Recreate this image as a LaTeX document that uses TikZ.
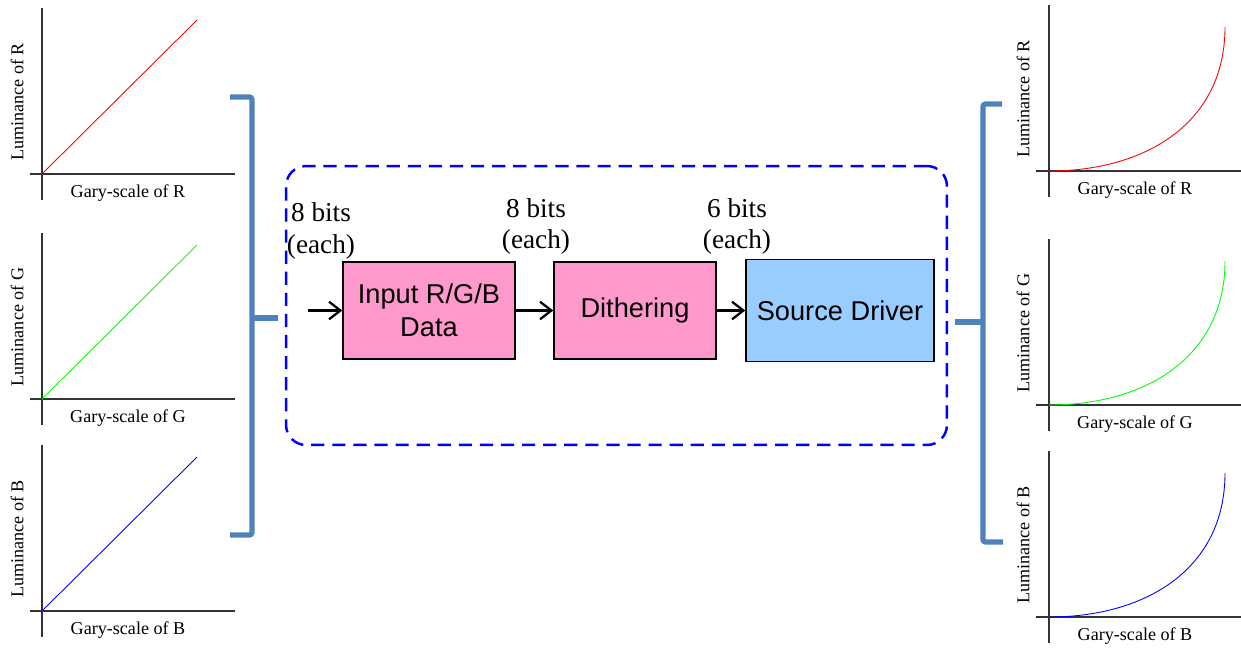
\documentclass[tikz,border=0pt]{standalone}
\usepackage{fontspec}
\setmainfont{Liberation Serif}
\newfontfamily\arialfont{Liberation Sans}
\usetikzlibrary{arrows.meta}
\definecolor{bracecol}{RGB}{79,129,189}
\definecolor{blkpink}{RGB}{255,153,204}
\definecolor{blkblue}{RGB}{153,204,255}

\begin{document}
\begin{tikzpicture}[
  x=0.02cm, y=-0.02cm,
  axis/.style={draw=black!80, line width=0.6pt},
  curvelbl/.style={font=\fontsize{10.3}{12}\selectfont, inner sep=0pt},
  bits/.style={align=center, font=\fontsize{15.5}{18}\selectfont, inner sep=0pt},
  blk/.style={draw, line width=0.8pt, font=\arialfont\fontsize{15.5}{18.5}\selectfont,
    align=center, minimum height=1.94cm},
  flow/.style={line width=1.3pt, -{Straight Barb[length=6.5pt,width=10pt]}},
  brace/.style={draw=bracecol, line width=3pt, rounded corners=1.5pt},
  frame/.style={draw=blue, line width=1.4pt, dash pattern=on 7.5pt off 4.5pt, rounded corners=0.4cm}
]
\useasboundingbox (0,0) rectangle (1241,649);

% linear curves (input side)
\foreach \c/\y/\col in {R/174/red, G/399/green, B/611/blue}{
  \draw[axis] (42,\y-166) -- (42,\y+26);
  \draw[axis] (30,\y) -- (235,\y);
  \draw[\col, line width=0.5pt] (42,\y) -- (197,\y-154);
  \node[curvelbl] (lx\c) at (128,\y+19) {Gary-scale of \c};
  \node[curvelbl, rotate=90] (ly\c) at (17,\y-72) {Luminance of \c};
}

% gamma curves (output side)
\foreach \c/\y/\col in {R/171/red, G/405/green, B/617/blue}{
  \draw[axis] (1049,\y-166) -- (1049,\y+26);
  \draw[axis] (1036,\y) -- (1241,\y);
  \draw[\col, line width=0.5pt] (1049,\y) .. controls (1146,\y) and (1225,\y-48) .. (1225,\y-144);
  \node[curvelbl] (rx\c) at (1135,\y+19) {Gary-scale of \c};
  \node[curvelbl, rotate=90] (ry\c) at (1023,\y-72) {Luminance of \c};
}

% braces
\draw[brace] (230,97) -- (252,97) -- (252,535) -- (230,535);
\draw[brace] (252,318) -- (278,318);
\draw[brace] (1002,104) -- (983,104) -- (983,542) -- (1003,542);
\draw[brace] (983,322) -- (955,322);

% data path
\node[frame, minimum width=13.22cm, minimum height=5.58cm] (dsp) at (616.5,305.5) {};
\node[blk, fill=blkpink, minimum width=3.44cm] (inp) at (429,310.5) {Input R/G/B\\Data};
\node[blk, fill=blkpink, minimum width=3.24cm] (dith) at (635,310.5) {Dithering};
\node[blk, fill=blkblue, minimum width=3.76cm, minimum height=2.04cm] (src) at (840,310.5) {Source Driver};
\coordinate (start) at (308,310.5);

\draw[flow] (start) -- (inp);
\draw[flow] (inp) -- (dith);
\draw[flow] (dith) -- (src);

\node[bits] (b1) at (321,231) {8 bits\\(each)};
\node[bits] (b2) at (536,226.5) {8 bits\\(each)};
\node[bits] (b3) at (737,226.5) {6 bits\\(each)};
\end{tikzpicture}
\end{document}
